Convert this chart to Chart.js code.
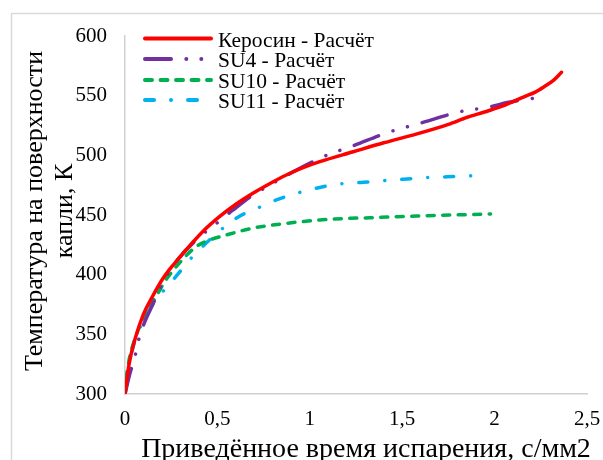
<!DOCTYPE html>
<html>
<head>
<meta charset="utf-8">
<script src="https://cdn.jsdelivr.net/npm/chart.js@4"></script>
<style>
  body { margin: 0; background: #fff; }
  canvas { display: block; }
</style>
</head>
<body>
<canvas id="chart" width="603" height="460"></canvas>
<script>
// data
const seriesNames = ["Керосин - Расчёт", "SU4 - Расчёт", "SU10 - Расчёт", "SU11 - Расчёт"];

const keroX = [0, 0.022, 0.058, 0.1, 0.148, 0.2, 0.239, 0.293, 0.33, 0.42, 0.511, 0.6, 0.692, 0.78, 0.873, 0.96, 1.054, 1.235, 1.4, 1.58, 1.75, 1.852, 1.95, 2.033, 2.1, 2.159, 2.22, 2.268, 2.32, 2.362];
const keroY = [300, 325, 348, 367, 381.5, 395.5, 404, 414, 420.7, 436, 448.6, 459, 468.2, 476, 483.5, 489.5, 494.7, 503, 510.5, 518, 526, 531.9, 536.5, 540.8, 545, 549, 553, 557.5, 563, 569.6];

const su4X = [0, 0.022, 0.058, 0.076, 0.103, 0.15, 0.194, 0.239, 0.293, 0.384, 0.453, 0.52, 0.583, 0.692, 0.783, 0.928, 1.054, 1.127, 1.217, 1.435, 1.6, 1.815, 1.978, 2.069, 2.21];
const su4Y = [300, 314.5, 334, 346.7, 359, 375, 390, 402.5, 414, 429, 438, 446, 454, 466.8, 475, 487.7, 497.5, 502.2, 507, 519.8, 527, 536.6, 540.8, 544.2, 547.8];

const su10X = [0, 0.004, 0.022, 0.058, 0.112, 0.167, 0.221, 0.293, 0.384, 0.457, 0.547, 0.692, 0.873, 1.054, 1.217, 1.326, 1.58, 1.978];
const su10Y = [300, 309, 328.5, 348, 367.6, 381.5, 395.5, 409.5, 423.4, 429, 433.2, 439, 443, 445.8, 447.2, 447.7, 449.2, 450.8];

const su11X = [0, 0.004, 0.04, 0.076, 0.148, 0.212, 0.275, 0.357, 0.438, 0.529, 0.62, 0.728, 0.819, 0.946, 1.145, 1.29, 1.398, 1.507, 1.625, 1.742, 1.852, 1.942];
const su11Y = [300, 303, 336.9, 353.6, 374.6, 387.2, 398.3, 413.7, 426.3, 438.9, 449, 456.5, 462.6, 469, 475.7, 477.4, 478.8, 480, 481.3, 482, 482.7, 483.5];

const xTicks = [0, 0.5, 1, 1.5, 2, 2.5];
const xTickLabels = ["0", "0,5", "1", "1,5", "2", "2,5"];
const yTicks = [300, 350, 400, 450, 500, 550, 600];
const yTickLabels = ["300", "350", "400", "450", "500", "550", "600"];

const xTitle = "Приведённое время испарения, с/мм2";
const yTitle = ["Температура на поверхности", "капли, К"];

// styles
const colors = ["#ff0000", "#7030a0", "#00b050", "#00b0f0"];
const dashes = [[], [26, 15.3, 0.01, 15, 0.01, 15.3], [7, 8.5], [9, 17, 0.01, 17]];
const serif = "'Liberation Serif', 'Times New Roman', serif";

// helper: zip x and y arrays into points
const toPoints = (xs, ys) => xs.map((x, i) => ({ x: x, y: ys[i] }));

const datasets = [
  toPoints(keroX, keroY),
  toPoints(su4X, su4Y),
  toPoints(su10X, su10Y),
  toPoints(su11X, su11Y),
].map((pts, i) => ({
  label: seriesNames[i],
  data: pts,
  showLine: true,
  borderColor: colors[i],
  backgroundColor: colors[i],
  borderWidth: 3.5,
  borderDash: dashes[i],
  borderCapStyle: "round",
  borderJoinStyle: "round",
  pointRadius: 0,
  cubicInterpolationMode: "monotone",
}));

// frame, axis titles and legend drawn by hand
const decorPlugin = {
  id: "decor",
  beforeDraw(chart) {
    const ctx = chart.ctx;
    ctx.save();
    ctx.strokeStyle = "#d9d9d9";
    ctx.lineWidth = 1.5;
    ctx.strokeRect(11.5, 13.5, 700, 600);
    ctx.restore();
  },
  afterDraw(chart) {
    const ctx = chart.ctx;
    ctx.save();
    ctx.fillStyle = "#000";
    // x title
    ctx.font = "28px " + serif;
    ctx.textAlign = "center";
    ctx.textBaseline = "alphabetic";
    ctx.fillText(xTitle, 366, 457);
    // y title (rotated)
    ctx.font = "26px " + serif;
    ctx.translate(0, 211);
    ctx.rotate(-Math.PI / 2);
    ctx.fillText(yTitle[0], 0, 42);
    ctx.fillText(yTitle[1], 0, 72);
    ctx.restore();

    // legend
    ctx.save();
    ctx.font = "21.5px " + serif;
    ctx.textAlign = "left";
    ctx.textBaseline = "alphabetic";
    const rows = [38.5, 59, 80, 100];
    chart.data.datasets.forEach((ds, i) => {
      const y = rows[i];
      ctx.strokeStyle = ds.borderColor;
      ctx.lineWidth = 4;
      ctx.lineCap = "round";
      ctx.setLineDash(ds.borderDash);
      ctx.beginPath();
      ctx.moveTo(145, y);
      ctx.lineTo(211, y);
      ctx.stroke();
      ctx.setLineDash([]);
      ctx.fillStyle = "#000";
      ctx.fillText(ds.label, 218, y + 8);
    });
    ctx.restore();
  },
};

const ctx = document.querySelector("#chart").getContext("2d");
new Chart(ctx, {
  type: "scatter",
  data: { datasets: datasets },
  plugins: [decorPlugin],
  options: {
    responsive: false,
    animation: false,
    devicePixelRatio: 1,
    layout: { padding: { left: 0, right: 16, top: 36, bottom: 0 } },
    plugins: {
      legend: { display: false },
      tooltip: { enabled: false },
    },
    scales: {
      x: {
        type: "linear",
        min: 0,
        max: 2.5,
        afterFit: (scale) => {
          scale.height = 66;
          scale.paddingLeft = 0;
          scale.paddingRight = 0;
        },
        afterBuildTicks: (scale) => { scale.ticks = xTicks.map((v) => ({ value: v })); },
        grid: { display: false, drawTicks: false },
        border: { display: true, color: "#d0d0d0", width: 1.5 },
        ticks: {
          padding: 13,
          maxRotation: 0,
          color: "#000",
          font: { family: serif, size: 21 },
          callback: (v, i) => xTickLabels[i],
        },
      },
      y: {
        type: "linear",
        min: 300,
        max: 600,
        afterFit: (scale) => {
          scale.width = 125;
          scale.paddingTop = 0;
          scale.paddingBottom = 0;
        },
        afterBuildTicks: (scale) => { scale.ticks = yTicks.map((v) => ({ value: v })); },
        grid: { display: false, drawTicks: false },
        border: { display: true, color: "#d0d0d0", width: 1.5 },
        ticks: {
          padding: 18,
          color: "#000",
          font: { family: serif, size: 21 },
          callback: (v, i) => yTickLabels[i],
        },
      },
    },
  },
});
</script>
</body>
</html>
